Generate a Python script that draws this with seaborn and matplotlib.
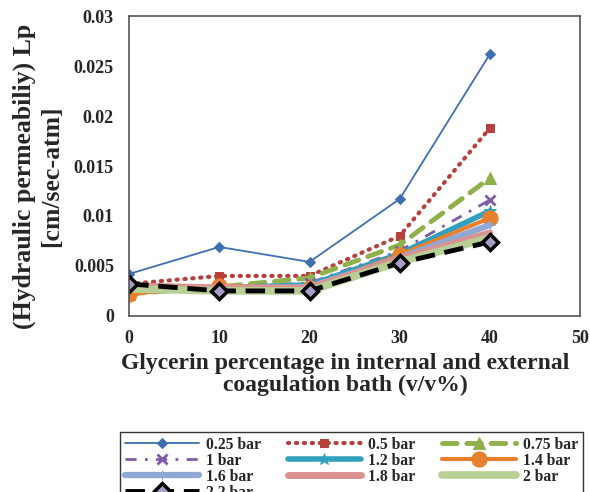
import matplotlib
matplotlib.use('Agg')
import matplotlib.pyplot as plt
import seaborn as sns
import pandas as pd

# glycerin percentage (v/v%)
glycerin = [0, 10, 20, 30, 40]

# hydraulic permeability Lp per transmembrane pressure
lp_025 = [0.0042, 0.0069, 0.0054, 0.0117, 0.0262]
lp_05 = [0.0032, 0.0040, 0.0040, 0.0080, 0.0188]
lp_075 = [0.0022, 0.0029, 0.0038, 0.0071, 0.0138]
lp_1 = [0.0030, 0.0028, 0.0033, 0.0065, 0.0116]
lp_12 = [0.0025, 0.0028, 0.0031, 0.0062, 0.0105]
lp_14 = [0.0022, 0.0030, 0.0028, 0.0061, 0.0098]
lp_16 = [0.0028, 0.0027, 0.0029, 0.0058, 0.0091]
lp_18 = [0.0030, 0.0028, 0.0028, 0.0057, 0.0083]
lp_2 = [0.0027, 0.0025, 0.0025, 0.0054, 0.0078]
lp_22 = [0.0032, 0.0025, 0.0025, 0.0053, 0.0074]

labels = ['0.25 bar', '0.5 bar', '0.75 bar', '1 bar', '1.2 bar',
          '1.4 bar', '1.6 bar', '1.8 bar', '2 bar', '2.2 bar']
series = [lp_025, lp_05, lp_075, lp_1, lp_12, lp_14, lp_16, lp_18, lp_2, lp_22]

styles = [
    dict(color='#3F6FB0', lw=1.3, ls='-', marker='D', ms=5, mfc='#3F6FB0', mec='#3F6FB0'),
    dict(color='#B5403C', lw=3.0, ls=(0, (0.3, 1.6)), marker='s', ms=6, mfc='#B5403C', mec='#B5403C', dash_capstyle='round'),
    dict(color='#8FB04A', lw=3.5, ls=(0, (3, 2)), marker='^', ms=9, mfc='#8FB04A', mec='#8FB04A', dash_capstyle='round'),
    dict(color='#7D5BA6', lw=2.0, ls=(0, (4, 3, 1, 3)), marker='x', ms=7, mew=2, mfc='#7D5BA6', mec='#7D5BA6'),
    dict(color='#31A0BE', lw=4.0, ls='-', marker='*', ms=9, mfc='#31A0BE', mec='#31A0BE'),
    dict(color='#E8812E', lw=3.0, ls='-', marker='o', ms=11, mfc='#E8812E', mec='#E8812E'),
    dict(color='#8FA9D6', lw=4.5, ls='-', marker='+', ms=7, mfc='#8FA9D6', mec='#8FA9D6'),
    dict(color='#D99391', lw=5.0, ls='-', marker=None),
    dict(color='#B8D095', lw=5.5, ls='-', marker=None),
    dict(color='black', lw=3.5, ls=(0, (4, 2)), marker='D', ms=8, mfc='#A89CC8', mec='black', mew=2.5),
]

sns.set_style('white')
plt.rcParams['font.family'] = ['Liberation Serif', 'DejaVu Serif']
plt.rcParams['font.weight'] = 'bold'

fig = plt.figure(figsize=(5.9, 4.92), dpi=100)
ax = fig.add_axes([0.219, 0.358, 0.764, 0.609])

for lab, vals, st in zip(labels, series, styles):
    df = pd.DataFrame({'glycerin': glycerin, 'lp': vals})
    sns.lineplot(data=df, x='glycerin', y='lp', ax=ax, label=lab, **st)

ax.set_xlim(0, 50)
ax.set_ylim(0, 0.03)
ax.set_xticks([0, 10, 20, 30, 40, 50])
ax.set_yticks([0, 0.005, 0.01, 0.015, 0.02, 0.025, 0.03])
ax.set_yticklabels(['0', '0.005', '0.01', '0.015', '0.02', '0.025', '0.03'])
ax.tick_params(axis='y', labelsize=13, length=0, pad=11)
ax.tick_params(axis='x', labelsize=13, length=0, pad=10)
for t in ax.get_xticklabels() + ax.get_yticklabels():
    t.set_fontweight('bold')
for sp in ax.spines.values():
    sp.set_color('#555555')
    sp.set_linewidth(1.2)

ax.set_xlabel('Glycerin percentage in internal and external\ncoagulation bath (v/v%)',
              fontsize=17, fontweight='bold', linespacing=1.05)
ax.xaxis.set_label_coords(0.479, -0.125)
ax.set_ylabel('(Hydraulic permeabiliy) Lp\n[cm/sec-atm]',
              fontsize=18.5, fontweight='bold', linespacing=1.2)
ax.yaxis.set_label_coords(-0.147, 0.465)

# legend filled row by row, as in the original
ax.legend_.remove()
handles, labs = ax.get_legend_handles_labels()
order = [0, 3, 6, 9, 1, 4, 7, 2, 5, 8]
leg = fig.legend([handles[i] for i in order], [labs[i] for i in order],
                 loc='upper left', bbox_to_anchor=(0.204, 0.122), borderaxespad=0,
                 ncol=3, frameon=True, fancybox=False, edgecolor='black',
                 prop={'weight': 'bold', 'size': 11.3},
                 handlelength=4.7, handletextpad=0.45, columnspacing=1.7,
                 labelspacing=0.0, borderpad=0.3)
leg.get_frame().set_linewidth(1.0)

fig.savefig('out.png', dpi=100)
